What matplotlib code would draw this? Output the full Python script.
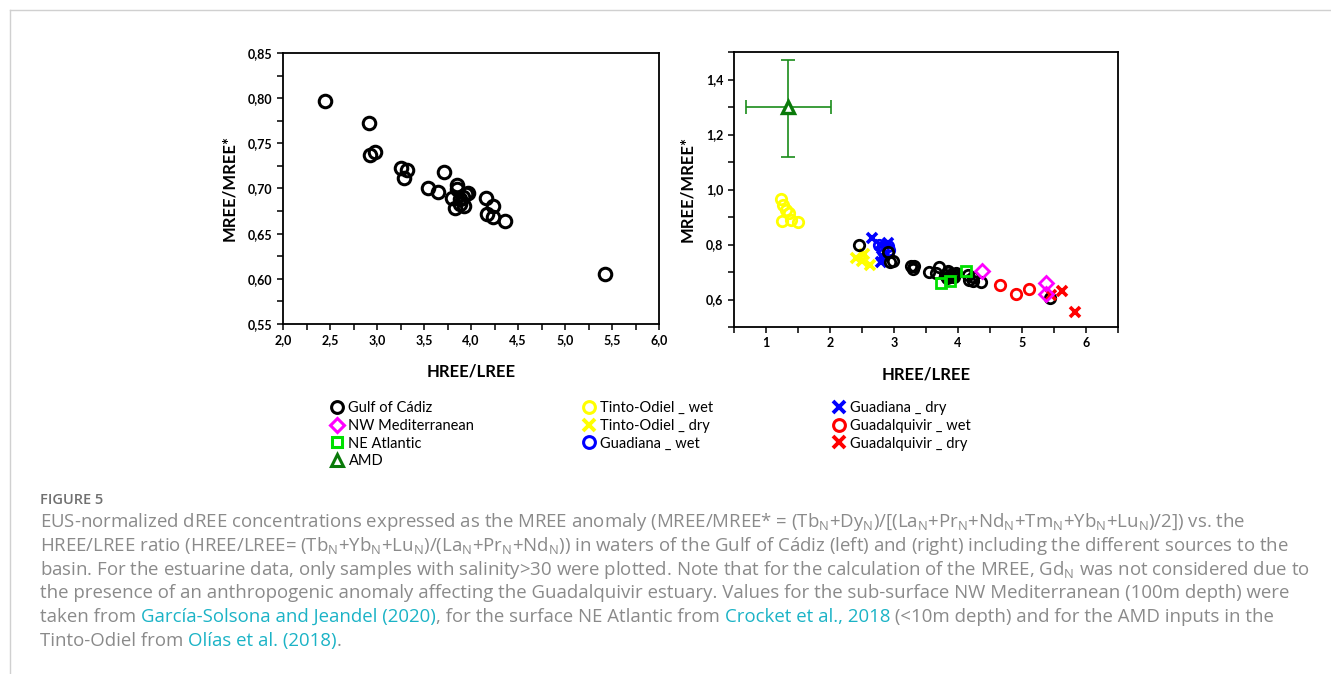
"""
Figure 5: MREE anomaly vs HREE/LREE ratio, Gulf of Cadiz (left) and with sources (right).
"""

import matplotlib

matplotlib.use("Agg")   # headless backend
import matplotlib.pyplot as plt
from matplotlib.lines import Line2D
from matplotlib.ticker import FuncFormatter, MultipleLocator

# --- data ---
cadiz_x = [2.45, 2.91, 2.93, 2.98, 3.26, 3.32, 3.29, 3.54, 3.65, 3.71, 3.80, 3.85, 3.85,
           3.83, 3.88, 3.92, 3.93, 3.97, 3.95, 3.88, 4.16, 4.23, 4.17, 4.23, 4.36, 5.43]
cadiz_y = [0.797, 0.772, 0.737, 0.740, 0.723, 0.721, 0.712, 0.701, 0.696, 0.718, 0.690,
           0.704, 0.699, 0.678, 0.688, 0.691, 0.681, 0.695, 0.694, 0.683, 0.690, 0.681,
           0.672, 0.669, 0.664, 0.605]

nwmed_x = [4.37, 5.37, 5.38]
nwmed_y = [0.702, 0.660, 0.620]

neatl_x = [4.12, 3.73, 3.87]
neatl_y = [0.702, 0.661, 0.666]

amd_x = [1.35]
amd_y = [1.30]
amd_xerr = [[0.67], [0.67]]
amd_yerr = [[0.18], [0.17]]

tinto_wet_x = [1.24, 1.27, 1.31, 1.36, 1.25, 1.39, 1.50]
tinto_wet_y = [0.964, 0.943, 0.925, 0.913, 0.887, 0.889, 0.881]

tinto_dry_x = [2.40, 2.50, 2.53, 2.62]
tinto_dry_y = [0.750, 0.740, 0.766, 0.726]

guad_wet_x = [2.77, 2.90, 2.92, 2.83]
guad_wet_y = [0.799, 0.793, 0.780, 0.778]

guad_dry_x = [2.65, 2.78, 2.82, 2.80, 2.90]
guad_dry_y = [0.822, 0.800, 0.760, 0.735, 0.805]

gqv_wet_x = [4.65, 4.90, 5.11]
gqv_wet_y = [0.654, 0.621, 0.638]

gqv_dry_x = [5.45, 5.62, 5.83]
gqv_dry_y = [0.617, 0.630, 0.553]

CAPTION = [
    [("EUS-normalized dREE concentrations expressed as the MREE anomaly (MREE/MREE* = "
      r"(Tb$_\mathrm{N}$+Dy$_\mathrm{N}$)/[(La$_\mathrm{N}$+Pr$_\mathrm{N}$+Nd$_\mathrm{N}$"
      r"+Tm$_\mathrm{N}$+Yb$_\mathrm{N}$+Lu$_\mathrm{N}$)/2]) vs. the", "g")],
    [(r"HREE/LREE ratio (HREE/LREE= (Tb$_\mathrm{N}$+Yb$_\mathrm{N}$+Lu$_\mathrm{N}$)/"
      r"(La$_\mathrm{N}$+Pr$_\mathrm{N}$+Nd$_\mathrm{N}$)) in waters of the Gulf of Cádiz "
      "(left) and (right) including the different sources to the", "g")],
    [("basin. For the estuarine data, only samples with salinity>30 were plotted. Note that "
      r"for the calculation of the MREE, Gd$_\mathrm{N}$ was not considered due to", "g")],
    [("the presence of an anthropogenic anomaly affecting the Guadalquivir estuary. Values "
      "for the sub-surface NW Mediterranean (100m depth) were", "g")],
    [("taken from ", "g"), ("García-Solsona and Jeandel (2020)", "l"),
     (", for the surface NE Atlantic from ", "g"), ("Crocket et al., 2018", "l"),
     (" (<10m depth) and for the AMD inputs in the", "g")],
    [("Tinto-Odiel from ", "g"), ("Olías et al. (2018)", "l"), (".", "g")],
]

GRAY = "#8a8a8a"
LINK = "#1bb3c6"
CAP_FONT = ["Open Sans", "DejaVu Sans"]

plt.rcParams["font.family"] = ["Lato", "DejaVu Sans"]
plt.rcParams["mathtext.fontset"] = "custom"
plt.rcParams["mathtext.rm"] = "Open Sans"

W, H = 1331, 674
fig = plt.figure(figsize=(W / 100, H / 100), dpi=100)


def comma(v, _pos, nd):
    return f"{v:.{nd}f}".replace(".", ",")


def style_axes(ax):
    for sp in ax.spines.values():
        sp.set_linewidth(1.3)
    ax.tick_params(which="both", direction="out", width=1.1, labelsize=9)
    ax.tick_params(which="major", length=4)
    ax.tick_params(which="minor", length=4)
    for lab in ax.get_xticklabels() + ax.get_yticklabels():
        lab.set_fontweight("bold")
    ax.set_xlabel("HREE/LREE", fontsize=12, fontweight="bold", labelpad=12)
    ax.set_ylabel("MREE/MREE*", fontsize=12, fontweight="bold", labelpad=8)


open_kw = dict(ls="none", mfc="none")

# ---- left panel ----
axl = fig.add_axes([283 / W, 1 - 324 / H, 376 / W, 271 / H])
axl.plot(cadiz_x, cadiz_y, marker="o", color="black", ms=9, mew=2.2, **open_kw)
axl.set_xlim(2.0, 6.0)
axl.set_ylim(0.55, 0.85)
axl.xaxis.set_major_locator(MultipleLocator(0.5))
axl.xaxis.set_minor_locator(MultipleLocator(0.25))
axl.yaxis.set_major_locator(MultipleLocator(0.05))
axl.yaxis.set_minor_locator(MultipleLocator(0.025))
axl.xaxis.set_major_formatter(FuncFormatter(lambda v, p: comma(v, p, 1)))
axl.yaxis.set_major_formatter(FuncFormatter(lambda v, p: comma(v, p, 2)))
style_axes(axl)

# ---- right panel ----
axr = fig.add_axes([734 / W, 1 - 327 / H, 384 / W, 275 / H])
ms_r, mew_r = 7.5, 2.0
axr.errorbar(amd_x, amd_y, xerr=amd_xerr, yerr=amd_yerr, fmt="none",
             ecolor="#1a8c1a", elinewidth=1.2, capsize=5, capthick=1.2, zorder=2)
axr.plot(amd_x, amd_y, marker="^", color="#0a7a0a", mfc="white", ms=9, mew=2.4,
         ls="none", zorder=3)
axr.plot(tinto_wet_x, tinto_wet_y, marker="o", color="#ffff00", ms=ms_r, mew=mew_r, **open_kw)
axr.plot(tinto_dry_x, tinto_dry_y, marker="x", color="#ffff00", ms=ms_r, mew=2.6, ls="none")
axr.plot(guad_dry_x, guad_dry_y, marker="x", color="#0000ff", ms=ms_r, mew=2.6, ls="none")
axr.plot(guad_wet_x, guad_wet_y, marker="o", color="#0000ff", ms=ms_r, mew=mew_r, **open_kw)
axr.plot(cadiz_x, cadiz_y, marker="o", color="black", ms=ms_r, mew=mew_r, **open_kw)
axr.plot(neatl_x, neatl_y, marker="s", color="#00e000", ms=7, mew=mew_r, **open_kw)
axr.plot(gqv_wet_x, gqv_wet_y, marker="o", color="#ff0000", ms=ms_r, mew=mew_r, **open_kw)
axr.plot(gqv_dry_x, gqv_dry_y, marker="x", color="#ff0000", ms=ms_r, mew=2.6, ls="none")
axr.plot(nwmed_x, nwmed_y, marker="D", color="#ff00ff", ms=7, mew=mew_r, **open_kw)
axr.set_xlim(0.5, 6.5)
axr.set_ylim(0.5, 1.5)
axr.xaxis.set_major_locator(MultipleLocator(1))
axr.xaxis.set_minor_locator(MultipleLocator(0.5))
axr.yaxis.set_major_locator(MultipleLocator(0.2))
axr.yaxis.set_minor_locator(MultipleLocator(0.1))
axr.xaxis.set_major_formatter(FuncFormatter(lambda v, p: f"{v:.0f}"))
axr.yaxis.set_major_formatter(FuncFormatter(lambda v, p: comma(v, p, 1)))
style_axes(axr)

# ---- legend (three columns) ----
def proxy(marker, color, mew=2.2, ms=8.5):
    return Line2D([], [], ls="none", marker=marker, color=color, mfc="none", mew=mew, ms=ms)


columns = [
    ([proxy("o", "black"), proxy("D", "#ff00ff", ms=7.5), proxy("s", "#00e000", ms=7.5),
      proxy("^", "#0a7a0a", ms=8.5)],
     ["Gulf of Cádiz", "NW Mediterranean", "NE Atlantic", "AMD"], 331),
    ([proxy("o", "#ffff00"), proxy("x", "#ffff00", mew=2.8), proxy("o", "#0000ff")],
     ["Tinto-Odiel _ wet", "Tinto-Odiel _ dry", "Guadiana _ wet"], 583),
    ([proxy("x", "#0000ff", mew=2.8), proxy("o", "#ff0000"), proxy("x", "#ff0000", mew=2.8)],
     ["Guadiana _ dry", "Guadalquivir _ wet", "Guadalquivir _ dry"], 833),
]
for handles, labels, x0 in columns:
    fig.legend(handles, labels, loc="upper left", bbox_to_anchor=(x0 / W, 1 - 401 / H),
               frameon=False, fontsize=10.5, handlelength=0.8, handletextpad=0.4,
               labelspacing=0.26, borderpad=0, borderaxespad=0)

# ---- page frame and caption ----
fig.add_artist(Line2D([10 / W, 1], [1 - 10 / H] * 2, color="#d0d0d0", lw=1))
fig.add_artist(Line2D([10 / W] * 2, [0, 1 - 10 / H], color="#d0d0d0", lw=1))

fig.text(40 / W, 1 - 504 / H, "FIGURE 5", color="#707070", fontsize=10.5,
         family=CAP_FONT, fontweight="semibold", va="baseline")

renderer = fig.canvas.get_renderer()
cap_kw = dict(fontsize=13.4, family=CAP_FONT, va="baseline")
probe = fig.text(0, 0, "|", **cap_kw)
bar_w = probe.get_window_extent(renderer).width
y_px = 527
for line in CAPTION:
    prefix = ""
    for seg, kind in line:
        probe.set_text(prefix + "|")
        x_px = 40 + (probe.get_window_extent(renderer).width - bar_w if prefix else 0)
        fig.text(x_px / W, 1 - y_px / H, seg, color=GRAY if kind == "g" else LINK, **cap_kw)
        prefix += seg
    y_px += 23.8
probe.remove()

fig.savefig("out.png", dpi=100)
